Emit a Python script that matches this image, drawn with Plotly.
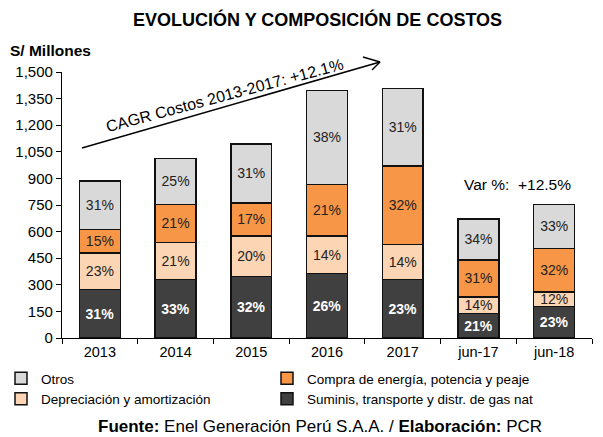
import plotly.graph_objects as go

# Costos por componente (S/ millones)
categories = ["2013", "2014", "2015", "2016", "2017", "jun-17", "jun-18"]
suminis = [273, 331, 348, 363, 329, 138, 179]
depreciacion = [206, 207, 226, 211, 198, 93, 81]
compra = [132, 216, 187, 293, 443, 209, 245]
otros = [274, 258, 333, 530, 437, 230, 249]

suminis_pct = ["31%", "33%", "32%", "26%", "23%", "21%", "23%"]
depreciacion_pct = ["23%", "21%", "20%", "14%", "14%", "14%", "12%"]
compra_pct = ["15%", "21%", "17%", "21%", "32%", "31%", "32%"]
otros_pct = ["31%", "25%", "31%", "38%", "31%", "34%", "33%"]

y_ticks = list(range(0, 1501, 150))

FONT = "Liberation Sans, Arial, sans-serif"
W, H = 603, 437
ML, MR, MT, MB = 62, 11, 72, 99
PW, PH = W - ML - MR, H - MT - MB


def px(x):
    return (x - ML) / PW


def py(y):
    return (H - MB - y) / PH


series = [
    ("Suminis, transporte y distr. de gas nat", suminis, suminis_pct, "#404040",
     dict(color="white", size=14, family=FONT, weight="bold"), 4),
    ("Depreciación y amortización", depreciacion, depreciacion_pct, "#FCD5B4",
     dict(color="#222", size=15, family=FONT), 3),
    ("Compra de energía, potencia y peaje", compra, compra_pct, "#F79646",
     dict(color="#222", size=16, family=FONT), 2),
    ("Otros", otros, otros_pct, "#D9D9D9",
     dict(color="#222", size=16, family=FONT), 1),
]

fig = go.Figure()
for name, vals, pct, color, tfont, rank in series:
    fig.add_trace(go.Bar(
        x=categories, y=vals, name=name, text=pct,
        textposition="inside", insidetextanchor="middle",
        constraintext="none", textfont=tfont,
        marker=dict(color=color, line=dict(color="#111", width=1.5)),
        legendrank=rank, hoverinfo="skip",
    ))

fig.update_layout(
    width=W, height=H,
    margin=dict(l=ML, r=MR, t=MT, b=MB, autoexpand=False),
    barmode="stack", bargap=0.46,
    plot_bgcolor="white", paper_bgcolor="white",
    font=dict(family=FONT, size=14, color="black"),
    uniformtext=dict(minsize=12, mode="show"),
    showlegend=True,
    legend=dict(
        orientation="h", x=px(1), y=py(363), xanchor="left", yanchor="top",
        entrywidth=221, entrywidthmode="pixels", itemwidth=30,
        traceorder="normal", font=dict(size=13.5, family=FONT),
        tracegroupgap=0, bgcolor="rgba(0,0,0,0)",
    ),
    xaxis=dict(
        showline=True, linecolor="black", linewidth=1.2, automargin=False,
        ticks="outside", ticklen=5, tickcolor="black", tickson="boundaries",
        tickfont=dict(size=14.5), showgrid=False,
    ),
    yaxis=dict(
        range=[0, 1500], tickvals=y_ticks, tickformat=",", automargin=False,
        showline=True, linecolor="black", linewidth=1.2,
        ticks="outside", ticklen=5, tickcolor="black",
        tickfont=dict(size=15), showgrid=False, zeroline=False,
    ),
)


def note(text, x, y, size, angle=0, anchor="center"):
    fig.add_annotation(
        text=text, xref="paper", yref="paper", x=px(x), y=py(y),
        xanchor=anchor, yanchor="middle", textangle=angle,
        showarrow=False, font=dict(size=size),
    )


# titulos y notas
note("<b>EVOLUCIÓN Y COMPOSICIÓN DE COSTOS</b>", 317, 20, 18)
note("<b>S/ Millones</b>", 8, 50, 15.5, anchor="left")
note("<b>Fuente:</b> Enel Generación Perú S.A.A. / <b>Elaboración:</b> PCR", 320, 426, 17)
note("CAGR Costos 2013-2017: +12.1%", 224, 95, 16, angle=-15)
note("Var %:  +12.5%", 517, 184, 15.5)

# flecha CAGR
arrow = [((82, 148), (380, 62)), ((363, 57), (380, 62)), ((372, 70), (380, 62))]
for (xa, ya), (xb, yb) in arrow:
    fig.add_shape(type="line", xref="paper", yref="paper",
                  x0=px(xa), y0=py(ya), x1=px(xb), y1=py(yb),
                  line=dict(color="black", width=1.5))

fig.write_html("out.html", config={"displayModeBar": False},
               post_script="document.body.style.margin='0';")
